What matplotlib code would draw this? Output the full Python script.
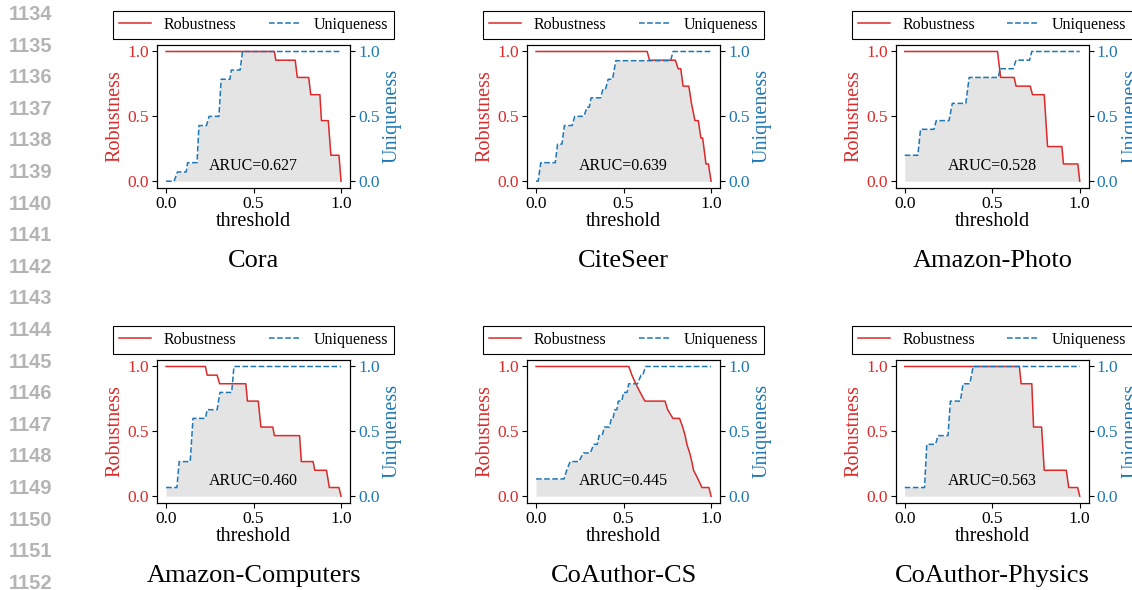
import numpy as np
import matplotlib
matplotlib.use("Agg")
import matplotlib.pyplot as plt
from matplotlib.lines import Line2D

plt.rcParams['font.family'] = ['Liberation Serif', 'DejaVu Serif']
plt.rcParams['mathtext.fontset'] = 'stix'

datasets = ["Cora", "CiteSeer", "Amazon-Photo",
            "Amazon-Computers", "CoAuthor-CS", "CoAuthor-Physics"]
aruc_labels = ["ARUC=0.627", "ARUC=0.639", "ARUC=0.528",
               "ARUC=0.460", "ARUC=0.445", "ARUC=0.563"]

# Cora
cora_rob_x = [0, 0.619, 0.627, 0.738, 0.75, 0.815, 0.827, 0.879, 0.888, 0.927, 0.942, 0.988, 1.0]
cora_rob_y = [1, 1, 0.933, 0.933, 0.8, 0.8, 0.667, 0.667, 0.467, 0.467, 0.2, 0.2, 0]
cora_uni_x = [0, 0.046, 0.065, 0.115, 0.123, 0.177, 0.188, 0.231, 0.246, 0.302, 0.315, 0.365, 0.373, 0.423, 0.437, 1.0]
cora_uni_y = [0, 0, 0.071, 0.071, 0.143, 0.143, 0.429, 0.429, 0.5, 0.5, 0.786, 0.786, 0.857, 0.857, 1, 1]

# CiteSeer
cite_rob_x = [0, 0.635, 0.648, 0.796, 0.812, 0.827, 0.84, 0.873, 0.888, 0.908, 0.927, 0.942, 0.952, 0.971, 0.985, 1.0]
cite_rob_y = [1, 1, 0.933, 0.933, 0.867, 0.867, 0.733, 0.733, 0.6, 0.467, 0.467, 0.333, 0.333, 0.133, 0.133, 0]
cite_uni_x = [0, 0.012, 0.027, 0.11, 0.123, 0.148, 0.162, 0.206, 0.221, 0.273, 0.292, 0.304, 0.315, 0.369,
              0.383, 0.398, 0.412, 0.437, 0.456, 0.769, 0.783, 1.0]
cite_uni_y = [0, 0, 0.143, 0.143, 0.286, 0.286, 0.429, 0.429, 0.5, 0.5, 0.571, 0.571, 0.643, 0.643,
              0.714, 0.714, 0.786, 0.786, 0.929, 0.929, 1, 1]

# Amazon-Photo
photo_rob_x = [0, 0.53, 0.548, 0.625, 0.636, 0.717, 0.73, 0.797, 0.816, 0.898, 0.907, 0.989, 1.0]
photo_rob_y = [1, 1, 0.8, 0.8, 0.733, 0.733, 0.667, 0.667, 0.267, 0.267, 0.133, 0.133, 0]
photo_uni_x = [0, 0.075, 0.09, 0.167, 0.18, 0.253, 0.272, 0.349, 0.368, 0.535, 0.544, 0.62, 0.636, 0.713, 0.726, 1.0]
photo_uni_y = [0.2, 0.2, 0.4, 0.4, 0.467, 0.467, 0.6, 0.6, 0.8, 0.8, 0.867, 0.867, 0.933, 0.933, 1, 1]

# Amazon-Computers
comp_rob_x = [0, 0.225, 0.235, 0.292, 0.306, 0.456, 0.465, 0.527, 0.542, 0.61, 0.619, 0.763, 0.773,
              0.84, 0.85, 0.917, 0.933, 0.988, 1.0]
comp_rob_y = [1, 1, 0.933, 0.933, 0.867, 0.867, 0.733, 0.733, 0.533, 0.533, 0.467, 0.467, 0.267,
              0.267, 0.2, 0.2, 0.067, 0.067, 0]
comp_uni_x = [0, 0.062, 0.075, 0.138, 0.154, 0.225, 0.235, 0.292, 0.308, 0.375, 0.388, 1.0]
comp_uni_y = [0.067, 0.067, 0.267, 0.267, 0.6, 0.6, 0.667, 0.667, 0.8, 0.8, 1, 1]

# CoAuthor-CS
cs_rob_x = [0, 0.53, 0.548, 0.57, 0.595, 0.622, 0.737, 0.752, 0.782, 0.82, 0.838, 0.852, 0.862,
            0.878, 0.89, 0.9, 0.925, 0.948, 0.988, 1.0]
cs_rob_y = [1, 1, 0.933, 0.867, 0.8, 0.733, 0.733, 0.667, 0.6, 0.6, 0.533, 0.467, 0.4,
            0.333, 0.267, 0.2, 0.133, 0.067, 0.067, 0]
cs_uni_x = [0, 0.16, 0.175, 0.195, 0.245, 0.27, 0.31, 0.33, 0.35, 0.36, 0.378, 0.39, 0.42, 0.43,
            0.44, 0.45, 0.462, 0.47, 0.49, 0.5, 0.52, 0.53, 0.58, 0.6, 0.61, 0.625, 1.0]
cs_uni_y = [0.133, 0.133, 0.2, 0.267, 0.267, 0.333, 0.333, 0.4, 0.4, 0.467, 0.467, 0.533, 0.533, 0.6,
            0.6, 0.667, 0.667, 0.733, 0.733, 0.8, 0.8, 0.867, 0.867, 0.933, 0.933, 1, 1]

# CoAuthor-Physics
phys_rob_x = [0, 0.655, 0.665, 0.726, 0.736, 0.782, 0.797, 0.923, 0.937, 0.988, 1.0]
phys_rob_y = [1, 1, 0.867, 0.867, 0.533, 0.533, 0.2, 0.2, 0.067, 0.067, 0]
phys_uni_x = [0, 0.113, 0.126, 0.176, 0.19, 0.247, 0.261, 0.318, 0.333, 0.372, 0.391, 1.0]
phys_uni_y = [0.067, 0.067, 0.4, 0.4, 0.467, 0.467, 0.733, 0.733, 0.867, 0.867, 1, 1]

rob_series = [(cora_rob_x, cora_rob_y), (cite_rob_x, cite_rob_y), (photo_rob_x, photo_rob_y),
              (comp_rob_x, comp_rob_y), (cs_rob_x, cs_rob_y), (phys_rob_x, phys_rob_y)]
uni_series = [(cora_uni_x, cora_uni_y), (cite_uni_x, cite_uni_y), (photo_uni_x, photo_uni_y),
              (comp_uni_x, comp_uni_y), (cs_uni_x, cs_uni_y), (phys_uni_x, phys_uni_y)]

line_numbers = list(range(1134, 1153))

RED = '#dc2a2a'
BLUE = '#1f77b4'
FILL = '#e4e4e4'

W, H = 1132, 590
fig = plt.figure(figsize=(W / 100, H / 100), dpi=100)

# line numbers at left margin
for i, n in enumerate(line_numbers):
    y = 14.5 + i * 31.6
    fig.text(52 / W, 1 - y / H, str(n), ha='right', va='center',
             fontsize=14.5, fontweight='bold', color='#b4b4b4',
             family=['Liberation Sans', 'DejaVu Sans'])

col_left = [157.3, 527.3, 896.0]
row_top = [45.0, 360.0]
ax_w, ax_h = 192.5, 142.7
title_y = [261.0, 576.0]

ticks = [0.0, 0.5, 1.0]
tick_labels = ['0.0', '0.5', '1.0']

for k in range(6):
    r, c = divmod(k, 3)
    left = col_left[c]
    top = row_top[r]
    ax = fig.add_axes([left / W, 1 - (top + ax_h) / H, ax_w / W, ax_h / H])
    ax2 = ax.twinx()

    rx, ry = rob_series[k]
    ux, uy = uni_series[k]
    grid = np.linspace(0, 1, 2001)
    low = np.minimum(np.interp(grid, rx, ry), np.interp(grid, ux, uy))
    ax.fill_between(grid, 0, low, color=FILL, lw=0, zorder=1)
    ax.plot(rx, ry, color=RED, lw=1.1, zorder=3)
    ax2.plot(ux, uy, color=BLUE, lw=1.1, ls='--', zorder=3)

    for a in (ax, ax2):
        a.set_xlim(-0.05, 1.05)
        a.set_ylim(-0.05, 1.05)
        a.set_yticks(ticks)
        a.set_yticklabels(tick_labels)
    ax.set_xticks(ticks)
    ax.set_xticklabels(tick_labels)
    ax.tick_params(axis='x', labelsize=12.5, colors='black', pad=2.5, length=3.5)
    ax.tick_params(axis='y', labelsize=12.5, labelcolor=RED, pad=2.5, length=3.5)
    ax2.tick_params(axis='y', labelsize=12.5, labelcolor=BLUE, pad=2.5, length=3.5)

    ax.set_ylabel('Robustness', color=RED, fontsize=14.5, labelpad=2)
    ax2.set_ylabel('Uniqueness', color=BLUE, fontsize=14.5, labelpad=2)
    ax.set_xlabel('threshold', fontsize=14.5, labelpad=0)

    ax.text(0.5, 0.12, aruc_labels[k], ha='center', va='center', fontsize=11.5, zorder=4)

    handles = [Line2D([], [], color=RED, lw=1.1),
               Line2D([], [], color=BLUE, lw=1.1, ls='--')]
    leg = ax2.legend(handles, ['Robustness', 'Uniqueness'], loc='lower center',
                     bbox_to_anchor=(0.5, 1.04), ncol=2, fontsize=11.5,
                     frameon=True, fancybox=False, edgecolor='black',
                     borderaxespad=0, framealpha=1)
    leg.get_frame().set_linewidth(0.8)

    fig.text((left + ax_w / 2) / W, 1 - title_y[r] / H, datasets[k],
             ha='center', va='center', fontsize=19)

fig.savefig('out.png', dpi=100)
